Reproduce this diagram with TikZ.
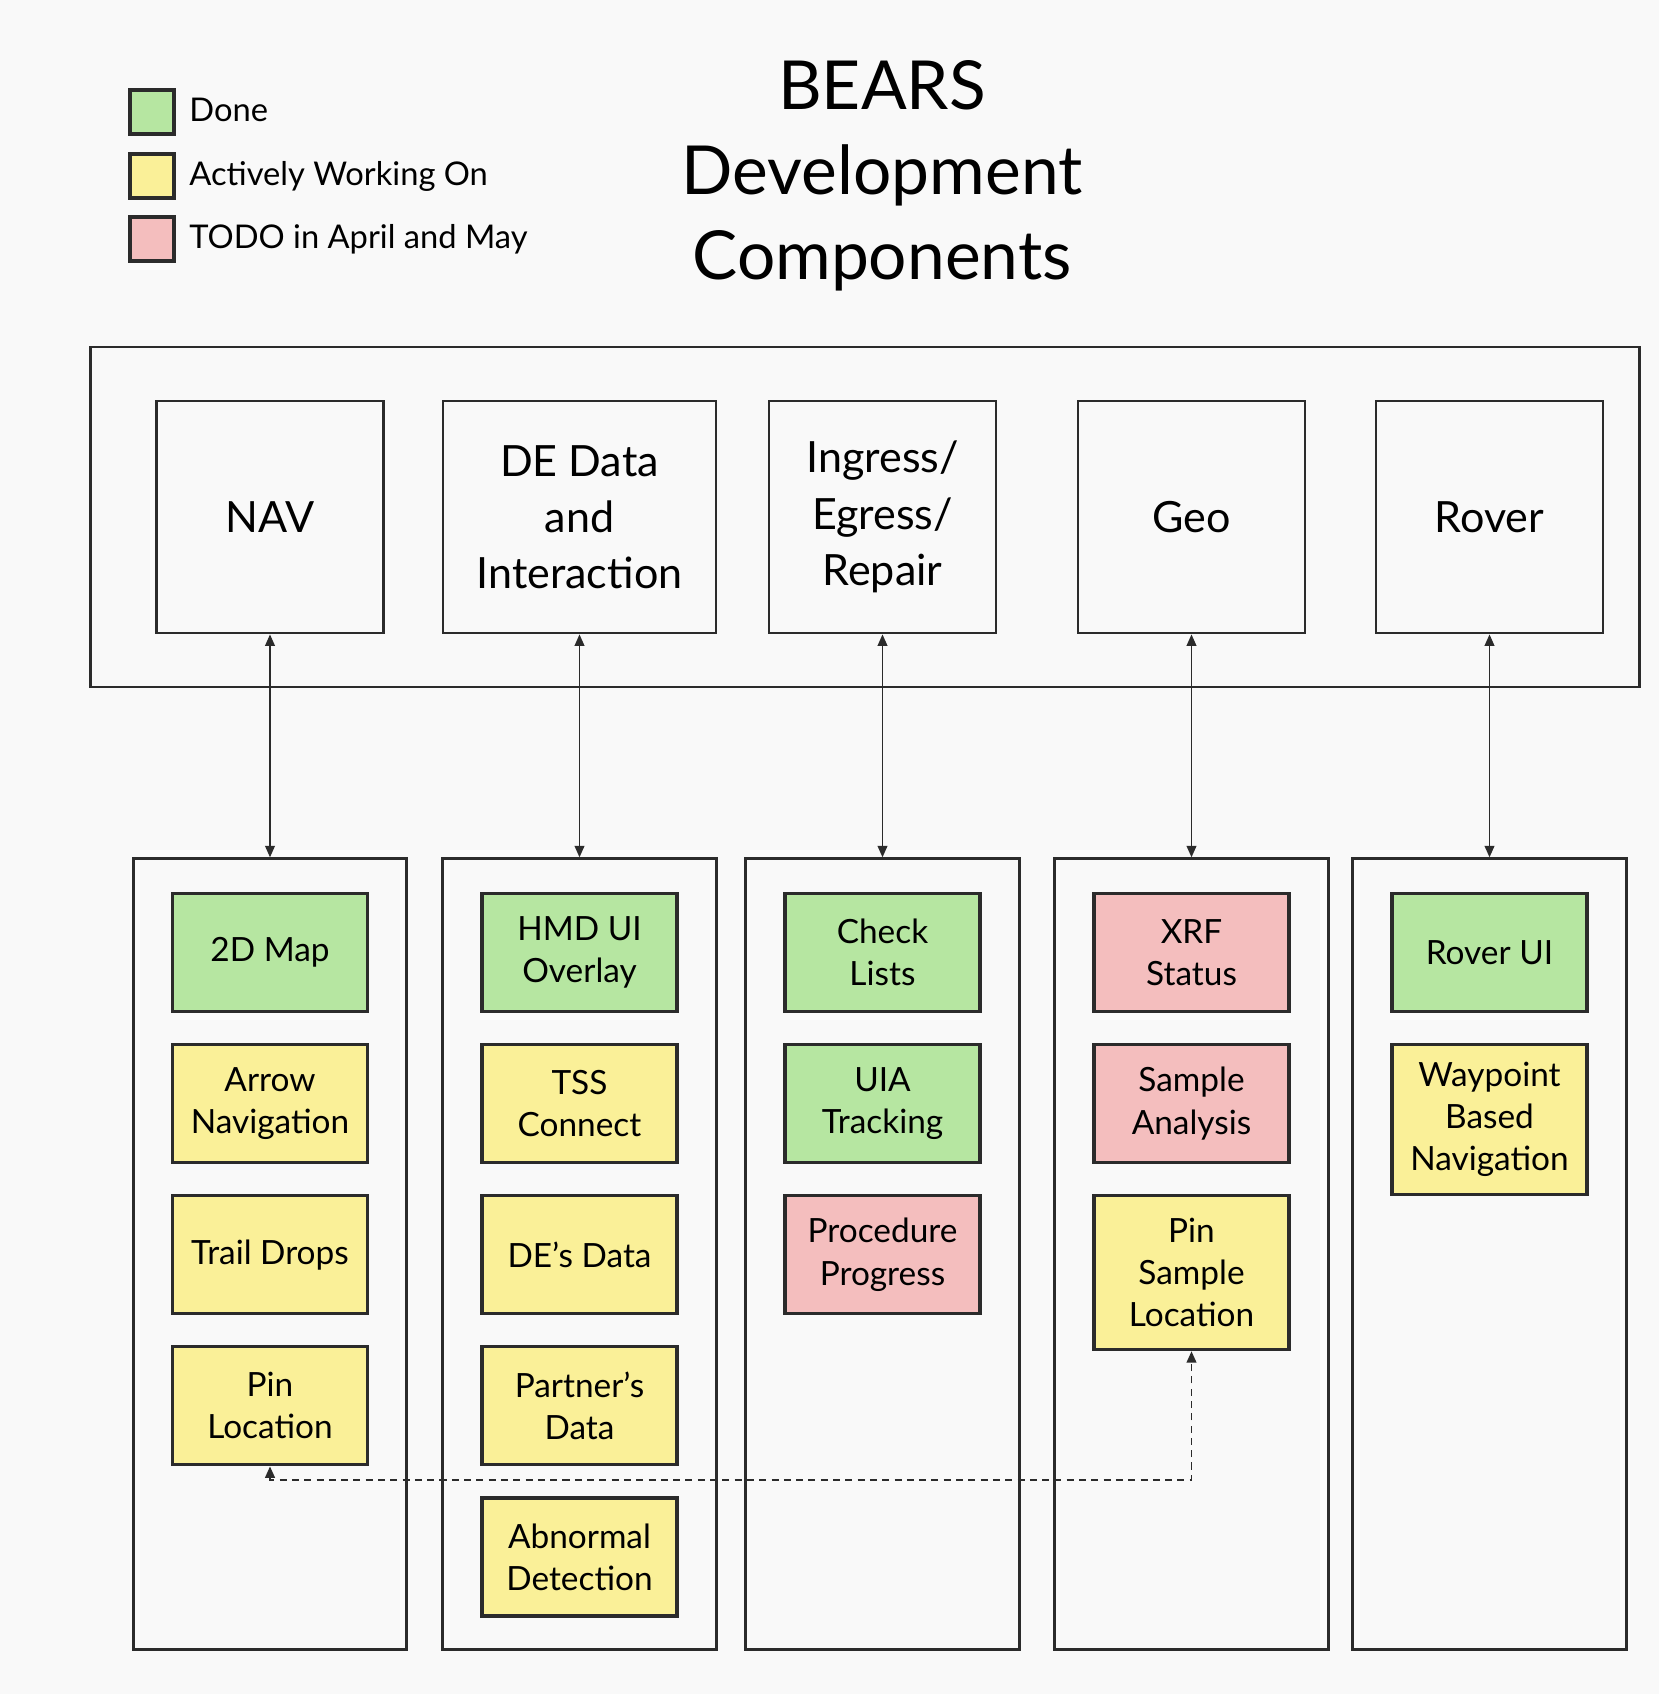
\documentclass[tikz,border=0pt]{standalone}
\usepackage{fontspec}
\setmainfont{Lato}
\usepackage{xcolor}
\usetikzlibrary{arrows.meta, positioning}

\definecolor{donegreen}{HTML}{B6E6A1}
\definecolor{workyellow}{HTML}{FAF098}
\definecolor{todopink}{HTML}{F4BEBE}
\definecolor{inkline}{HTML}{2B2B2B}
\definecolor{paper}{HTML}{F9F9F9}

\begin{document}
\begin{tikzpicture}[
  x=0.02cm, y=-0.02cm,
  node distance=0.6cm,
  compbox/.style={rectangle, draw=inkline, line width=1.6pt, minimum width=4.54cm,
                  minimum height=4.64cm, align=center,
                  font=\fontsize{24.5}{32}\selectfont},
  column/.style={rectangle, draw=inkline, line width=1.6pt, minimum width=5.47cm,
                 minimum height=15.82cm},
  item/.style={rectangle, draw=inkline, line width=1.8pt, minimum width=3.9cm,
               minimum height=2.36cm, align=center, inner sep=2pt,
               font=\fontsize{19}{24}\selectfont},
  done/.style={item, fill=donegreen},
  work/.style={item, fill=workyellow},
  todo/.style={item, fill=todopink},
  swatch/.style={rectangle, draw=inkline, line width=1.8pt, minimum size=0.88cm},
  keytext/.style={anchor=west, inner sep=0pt, font=\fontsize{18.6}{22}\selectfont},
  link/.style={{Triangle[length=6.5pt,width=5.5pt]}-{Triangle[length=6.5pt,width=5.5pt]},
               line width=0.9pt, draw=inkline},
  dashlink/.style={link, line width=1.1pt, dash pattern=on 4pt off 3pt},
]
  \fill[paper] (0,0) rectangle (1659,1694);
  \useasboundingbox (0,0) rectangle (1659,1694);

  \node[swatch, fill=donegreen] (kdone) at (152,112) {};
  \node[swatch, fill=workyellow] (kwork) at (152,176) {};
  \node[swatch, fill=todopink] (ktodo) at (152,239) {};
  \node[keytext] (tdone) at (189,110) {Done};
  \node[keytext] (twork) at (189,176) {Actively Working On};
  \node[keytext] (ttodo) at (189,239) {TODO in April and May};

  \node[align=center, font=\fontsize{38.5}{48.5}\selectfont] (title) at (882,176)
    {BEARS\\Development\\Components};

  \node[rectangle, draw=inkline, line width=1.6pt, minimum width=31cm,
        minimum height=6.8cm] (frame) at (865,517) {};

  \node[compbox] (nav) at (270,517) {NAV};
  \node[compbox, minimum width=5.46cm] (de) at (579.5,517) {DE Data\\and\\Interaction};
  \node[compbox] (ingress) at (882.5,517) {Ingress/\\Egress/\\Repair};
  \node[compbox] (geo) at (1191.5,517) {Geo};
  \node[compbox] (rover) at (1489.5,517) {Rover};

  \node[column, below=4.46cm of nav] (navcol) {};
  \node[column, below=4.46cm of de] (decol) {};
  \node[column, below=4.46cm of ingress] (ingcol) {};
  \node[column, below=4.46cm of geo] (geocol) {};
  \node[column, below=4.46cm of rover] (rovcol) {};

  \node[done, below=0.69cm of navcol.north] (map) {2D Map};
  \node[work, below=of map] (arrownav) {Arrow\\Navigation};
  \node[work, below=of arrownav] (trail) {Trail Drops};
  \node[work, below=of trail] (pinloc) {Pin\\Location};

  \node[done, below=0.69cm of decol.north] (hmd) {HMD UI\\Overlay};
  \node[work, below=of hmd] (tss) {TSS\\Connect};
  \node[work, below=of tss] (dedata) {DE's Data};
  \node[work, below=of dedata] (partner) {Partner's\\Data};
  \node[work, below=of partner] (abnormal) {Abnormal\\Detection};

  \node[done, below=0.69cm of ingcol.north] (checks) {Check\\Lists};
  \node[done, below=of checks] (uia) {UIA\\Tracking};
  \node[todo, below=of uia] (procedure) {Procedure\\Progress};

  \node[todo, below=0.69cm of geocol.north] (xrf) {XRF\\Status};
  \node[todo, below=of xrf] (sample) {Sample\\Analysis};
  \node[work, below=of sample, minimum height=3.08cm] (pinsample) {Pin\\Sample\\Location};

  \node[done, below=0.69cm of rovcol.north] (roverui) {Rover UI};
  \node[work, below=of roverui, minimum height=3.0cm] (waypoint) {Waypoint\\Based\\Navigation};

  \draw[link] (nav) -- (navcol);
  \draw[link] (de) -- (decol);
  \draw[link] (ingress) -- (ingcol);
  \draw[link] (geo) -- (geocol);
  \draw[link] (rover) -- (rovcol);

  \coordinate (turn) at (0,1480);
  \draw[dashlink] (pinloc.south) -- (pinloc.south |- turn) -| (pinsample.south);
\end{tikzpicture}
\end{document}
